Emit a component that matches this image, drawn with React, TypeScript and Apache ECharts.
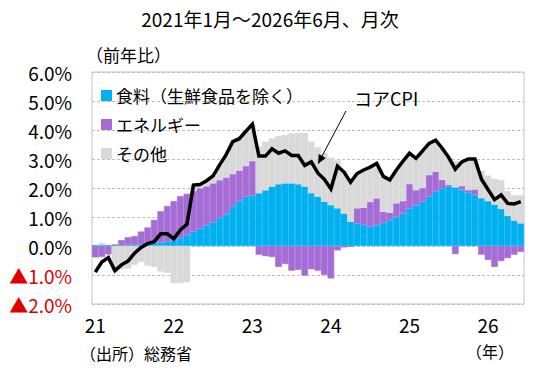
import React, { useEffect, useRef } from "react";
import * as echarts from "echarts";

const FONT = '"Noto Sans CJK JP", "Noto Sans", sans-serif';

// Categories: monthly, 2021-01 .. 2026-06
const years = [2021, 2022, 2023, 2024, 2025, 2026];
const lastMonth2026 = 6;
const months: string[] = [];
for (const y of years) {
  const end = y === 2026 ? lastMonth2026 : 12;
  for (let m = 1; m <= end; m++) months.push(`${y}-${String(m).padStart(2, "0")}`);
}

// Core CPI y/y (%)
const coreCPI = [
  -0.9, -0.55, -0.4, -0.85, -0.65, -0.52, -0.25, -0.05, 0.08, 0.15, 0.42, 0.42,
  0.25, 0.55, 0.75, 2.1, 2.12, 2.25, 2.42, 2.8, 3.15, 3.6, 3.7, 3.95,
  4.2, 3.1, 3.1, 3.35, 3.2, 3.28, 3.12, 3.12, 2.78, 2.9, 2.52, 2.3,
  1.97, 2.75, 2.55, 2.2, 2.5, 2.62, 2.72, 2.85, 2.4, 2.28, 2.62, 2.92,
  3.2, 3.02, 3.28, 3.54, 3.65, 3.37, 3.05, 2.65, 2.9, 3.0, 3.0, 2.3,
  1.95, 1.6, 1.76, 1.47, 1.45, 1.53,
];

// Contribution: food (excluding fresh food)
const food = [
  0.03, 0.03, 0.03, 0.03, 0.03, 0.03, 0.04, 0.05, 0.07, 0.1, 0.12, 0.15,
  0.2, 0.27, 0.38, 0.5, 0.6, 0.72, 0.82, 0.97, 1.1, 1.37, 1.55, 1.7,
  1.74, 1.82, 1.92, 2.05, 2.13, 2.16, 2.16, 2.13, 2.05, 1.82, 1.7, 1.53,
  1.41, 1.3, 1.12, 0.84, 0.78, 0.72, 0.67, 0.72, 0.8, 0.9, 1.0, 1.12,
  1.3, 1.41, 1.53, 1.7, 1.87, 1.99, 2.06, 2.02, 1.93, 1.85, 1.76, 1.65,
  1.55, 1.43, 1.28, 1.04, 0.88, 0.78,
];

// Contribution: energy
const energy = [
  -0.4, -0.38, -0.3, 0.02, 0.17, 0.27, 0.3, 0.45, 0.57, 0.8, 1.08, 1.23,
  1.35, 1.45, 1.42, 1.4, 1.39, 1.34, 1.34, 1.3, 1.26, 1.11, 1.05, 1.06,
  1.19, -0.3, -0.35, -0.38, -0.72, -0.62, -0.85, -0.82, -1.02, -0.8, -0.85, -1.0,
  -1.12, -0.15, -0.05, -0.03, 0.52, 0.6, 0.85, 0.92, 0.38, 0.25, 0.47, 0.43,
  0.84, 0.52, 0.47, 0.75, 0.69, 0.29, 0.05, -0.28, 0.14, 0.08, 0.19, -0.3,
  -0.48, -0.72, -0.52, -0.42, -0.3, -0.2,
];

// Contribution: other
const other = [
  0, 0.08, 0, -0.88, -0.8, -0.78, -0.65, -0.55, -0.68, -0.72, -0.88, -0.92,
  -1.28, -1.28, -1.25, 0.2, 0.16, 0.19, 0.26, 0.51, 0.75, 1.1, 1.1, 1.2,
  1.25, 1.61, 1.68, 1.66, 1.67, 1.67, 1.72, 1.77, 1.85, 1.78, 1.7, 1.67,
  1.64, 1.65, 1.48, 1.39, 1.2, 1.3, 1.2, 1.21, 1.22, 1.13, 1.15, 1.35,
  1.06, 1.09, 1.28, 1.09, 1.07, 1.09, 0.94, 0.91, 0.83, 1.07, 1.05, 0.95,
  0.88, 0.89, 0.99, 0.86, 0.87, 0.97,
];

const seriesNames = ["食料（生鮮食品を除く）", "エネルギー", "その他"];
const seriesColors = ["#00B0F0", "#A56CD5", "#D9D9D9"];

export default function App() {
  const ref = useRef<HTMLDivElement>(null);

  useEffect(() => {
    if (!ref.current) return;
    const chart = echarts.init(ref.current, null, { renderer: "svg" });
    const bar = (i: number, data: number[]) => ({
      type: "bar" as const,
      stack: "contrib",
      barCategoryGap: "0%",
      barGap: "0%",
      name: seriesNames[i],
      data,
      itemStyle: { color: seriesColors[i], borderColor: seriesColors[i], borderWidth: 0.6 },
    });
    chart.setOption({
      animation: false,
      backgroundColor: "#ffffff",
      textStyle: { fontFamily: FONT },
      title: {
        text: "2021年1月～2026年6月、月次",
        left: "center",
        top: 4,
        textStyle: { fontFamily: FONT, fontSize: 19, fontWeight: "normal", color: "#000" },
      },
      legend: {
        orient: "vertical",
        left: 96,
        top: 81,
        itemWidth: 9,
        itemHeight: 9,
        itemGap: 10,
        textStyle: { fontFamily: FONT, fontSize: 17, color: "#000", lineHeight: 19 },
        data: seriesNames.map((n) => ({ name: n, icon: "rect" })),
      },
      grid: {
        left: 92,
        right: 16,
        top: 72,
        bottom: 70,
        show: true,
        borderColor: "#C4C4C4",
        borderWidth: 1,
      },
      xAxis: {
        type: "category",
        data: months,
        boundaryGap: true,
        axisLine: { show: false },
        axisTick: { show: false },
        axisLabel: {
          interval: 11,
          formatter: (v: string) => v.slice(2, 4),
          fontFamily: FONT,
          fontSize: 19,
          color: "#000",
          margin: 11,
        },
      },
      yAxis: {
        type: "value",
        min: -2,
        max: 6,
        interval: 1,
        axisLine: { show: false },
        axisTick: { show: false },
        splitLine: { lineStyle: { color: "#BFBFBF", type: [3, 2], width: 1 } },
        axisLabel: {
          margin: 20,
          fontFamily: FONT,
          fontSize: 19,
          color: "#000",
          formatter: (v: number) =>
            v < 0 ? `{neg|▲${Math.abs(v).toFixed(1)}%}` : `${v.toFixed(1)}%`,
          rich: { neg: { color: "#E00000", fontSize: 19, fontFamily: FONT } },
        },
      },
      series: [
        bar(0, food),
        bar(1, energy),
        bar(2, other),
        {
          type: "line",
          name: "コアCPI",
          data: coreCPI,
          symbol: "none",
          z: 10,
          lineStyle: { color: "#000", width: 3.5, join: "miter" },
        },
      ],
      graphic: [
        {
          type: "text",
          left: 86,
          top: 46,
          style: { text: "（前年比）", fontFamily: FONT, fontSize: 17, fill: "#000" },
        },
        {
          type: "text",
          left: 80,
          top: 345,
          style: { text: "（出所）総務省", fontFamily: FONT, fontSize: 16, fill: "#000" },
        },
        {
          type: "text",
          left: 466,
          top: 343,
          style: { text: "（年）", fontFamily: FONT, fontSize: 16, fill: "#000" },
        },
        {
          type: "text",
          left: 354,
          top: 89,
          z: 100,
          style: { text: "コアCPI", fontFamily: FONT, fontSize: 18, fill: "#000" },
        },
        {
          type: "line",
          z: 100,
          shape: { x1: 346, y1: 111, x2: 321, y2: 158 },
          style: { stroke: "#000", lineWidth: 1 },
        },
        {
          type: "polygon",
          z: 100,
          shape: { points: [[318, 164], [325.7, 157.9], [318.7, 154.1]] },
          style: { fill: "#000" },
        },
      ],
    });
    return () => chart.dispose();
  }, []);

  return (
    <div
      ref={ref}
      style={{ position: "fixed", left: 0, top: 0, width: 540, height: 374, background: "#fff" }}
    />
  );
}
